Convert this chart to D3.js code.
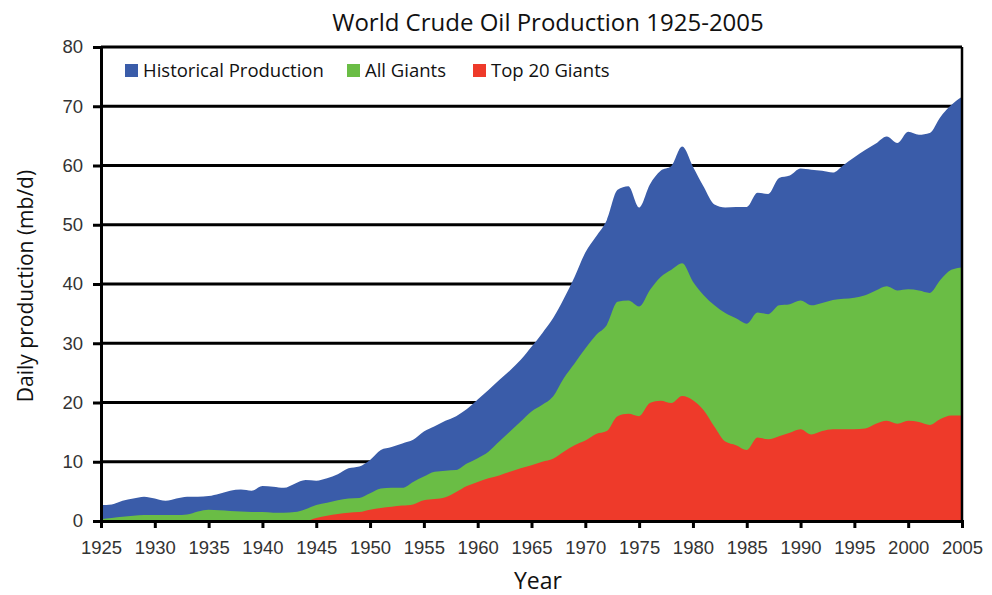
<!DOCTYPE html>
<html>
<head>
<meta charset="utf-8">
<script src="https://cdn.jsdelivr.net/npm/d3@7"></script>
<style>
  body { margin: 0; background: #fff; }
  svg { display: block; font-family: "Open Sans", "Noto Sans", sans-serif; }
  .tick text { fill: #333; font-size: 18.5px; }
</style>
</head>
<body>
<div id="chart"></div>
<script>
const years = d3.range(1925, 2006);

// Historical production (total), mb/d
const historical = [
  2.7, 2.8, 3.4, 3.8, 4.1, 3.8, 3.4, 3.8, 4.1, 4.1,
  4.2, 4.6, 5.1, 5.3, 5.1, 5.9, 5.8, 5.6, 6.3, 6.9,
  6.8, 7.2, 7.9, 8.9, 9.2, 10.3, 12.0, 12.5, 13.1, 13.7,
  15.1, 16.0, 16.9, 17.7, 18.9, 20.5, 22.1, 23.8, 25.4, 27.2,
  29.4, 31.7, 34.2, 37.5, 41.2, 45.3, 48.0, 50.8, 55.9, 56.5,
  52.9, 56.8, 59.1, 59.9, 63.2, 59.8, 56.4, 53.4, 52.9, 53.0,
  53.0, 55.4, 55.2, 57.9, 58.3, 59.5, 59.3, 59.1, 58.8, 60.1,
  61.4, 62.6, 63.7, 64.9, 63.8, 65.7, 65.2, 65.5, 68.2, 70.2,
  71.6
];

// All giant fields
const allGiants = [
  0.3, 0.5, 0.7, 0.9, 1.0, 1.0, 1.0, 1.0, 1.1, 1.6,
  1.9, 1.8, 1.7, 1.6, 1.5, 1.5, 1.4, 1.4, 1.5, 2.0,
  2.7, 3.1, 3.5, 3.8, 3.9, 4.7, 5.5, 5.6, 5.6, 6.6,
  7.5, 8.3, 8.5, 8.6, 9.7, 10.6, 11.7, 13.4, 15.1, 16.8,
  18.5, 19.6, 21.0, 24.1, 26.6, 29.1, 31.4, 33.1, 37.0, 37.2,
  36.2, 39.0, 41.2, 42.4, 43.5, 40.4, 38.1, 36.4, 35.1, 34.2,
  33.3, 35.2, 34.9, 36.4, 36.6, 37.2, 36.4, 36.8, 37.3, 37.5,
  37.7, 38.1, 38.9, 39.6, 38.9, 39.1, 38.9, 38.5, 40.7, 42.4,
  42.8
];

// Top 20 giant fields
const top20 = [
  0, 0, 0, 0, 0, 0, 0, 0, 0, 0,
  0, 0, 0, 0, 0, 0, 0, 0, 0, 0,
  0.5, 0.9, 1.2, 1.4, 1.5, 1.9, 2.2, 2.4, 2.6, 2.8,
  3.5, 3.7, 4.0, 4.9, 5.9, 6.6, 7.2, 7.7, 8.3, 8.9,
  9.4, 10.0, 10.5, 11.7, 12.8, 13.6, 14.7, 15.2, 17.7, 18.1,
  17.7, 19.9, 20.3, 19.9, 21.1, 20.4, 18.7, 15.9, 13.4, 12.8,
  12.0, 14.1, 13.8, 14.3, 14.9, 15.5, 14.6, 15.2, 15.5, 15.5,
  15.5, 15.6, 16.4, 16.9, 16.4, 16.9, 16.7, 16.2, 17.2, 17.8,
  17.8
];

const seriesNames = ["Historical Production", "All Giants", "Top 20 Giants"];
const seriesColors = ["#3a5ca9", "#6abd45", "#ee3a2a"];
const seriesValues = [historical, allGiants, top20];

const xTicks = d3.range(1925, 2006, 5);
const yTicks = d3.range(0, 81, 10);

const width = 992, height = 595;
const margin = { top: 47, right: 30, bottom: 74, left: 101 };
const innerW = width - margin.left - margin.right;
const innerH = height - margin.top - margin.bottom;

const svg = d3.select("#chart").append("svg")
  .attr("width", width)
  .attr("height", height);

const g = svg.append("g")
  .attr("transform", `translate(${margin.left},${margin.top})`);

const x = d3.scaleLinear().domain([1925, 2005]).range([0, innerW]);
const y = d3.scaleLinear().domain([0, 80]).range([innerH, 0]);

// gridlines sit behind the areas
g.append("g")
  .selectAll("line")
  .data(yTicks.filter(d => d > 0))
  .join("line")
  .attr("x1", 0)
  .attr("x2", innerW)
  .attr("y1", d => y(d))
  .attr("y2", d => y(d))
  .attr("stroke", "#000")
  .attr("stroke-width", 3);

const area = vals => d3.area()
  .x((d, i) => x(years[i]))
  .y0(y(0))
  .y1(d => y(d))
  .curve(d3.curveMonotoneX)(vals);

g.append("g")
  .selectAll("path")
  .data(seriesValues)
  .join("path")
  .attr("d", d => area(d))
  .attr("fill", (d, i) => seriesColors[i]);

// right frame line
g.append("line")
  .attr("x1", innerW).attr("x2", innerW)
  .attr("y1", 0).attr("y2", innerH)
  .attr("stroke", "#000")
  .attr("stroke-width", 2.5);

// axes
const yAxis = g.append("g")
  .call(d3.axisLeft(y).tickValues(yTicks).tickSize(8).tickPadding(10));
yAxis.select(".domain").attr("stroke-width", 3);
yAxis.selectAll(".tick line").attr("stroke-width", 3);

const xAxis = g.append("g")
  .attr("transform", `translate(0,${innerH})`)
  .call(d3.axisBottom(x).tickValues(xTicks).tickFormat(d3.format("d")).tickSize(7).tickPadding(13));
xAxis.select(".domain").attr("stroke-width", 3);
xAxis.selectAll(".tick line").attr("stroke-width", 3);

// title and axis labels
svg.append("text")
  .attr("x", 548).attr("y", 31)
  .attr("text-anchor", "middle")
  .attr("font-size", 24)
  .attr("fill", "#111")
  .text("World Crude Oil Production 1925-2005");

svg.append("text")
  .attr("x", 538).attr("y", 589)
  .attr("text-anchor", "middle")
  .attr("font-size", 23)
  .attr("fill", "#111")
  .text("Year");

svg.append("text")
  .attr("transform", `translate(33,286) rotate(-90)`)
  .attr("text-anchor", "middle")
  .attr("font-size", 21)
  .attr("fill", "#111")
  .text("Daily production (mb/d)");

// legend
const legendX = [125, 347, 473];
const legend = svg.append("g")
  .selectAll("g")
  .data(seriesNames)
  .join("g")
  .attr("transform", (d, i) => `translate(${legendX[i]},64)`);

legend.append("rect")
  .attr("width", 13).attr("height", 13)
  .attr("fill", (d, i) => seriesColors[i]);

legend.append("text")
  .attr("x", 18).attr("y", 13)
  .attr("font-size", 18.5)
  .attr("fill", "#111")
  .text(d => d);
</script>
</body>
</html>
